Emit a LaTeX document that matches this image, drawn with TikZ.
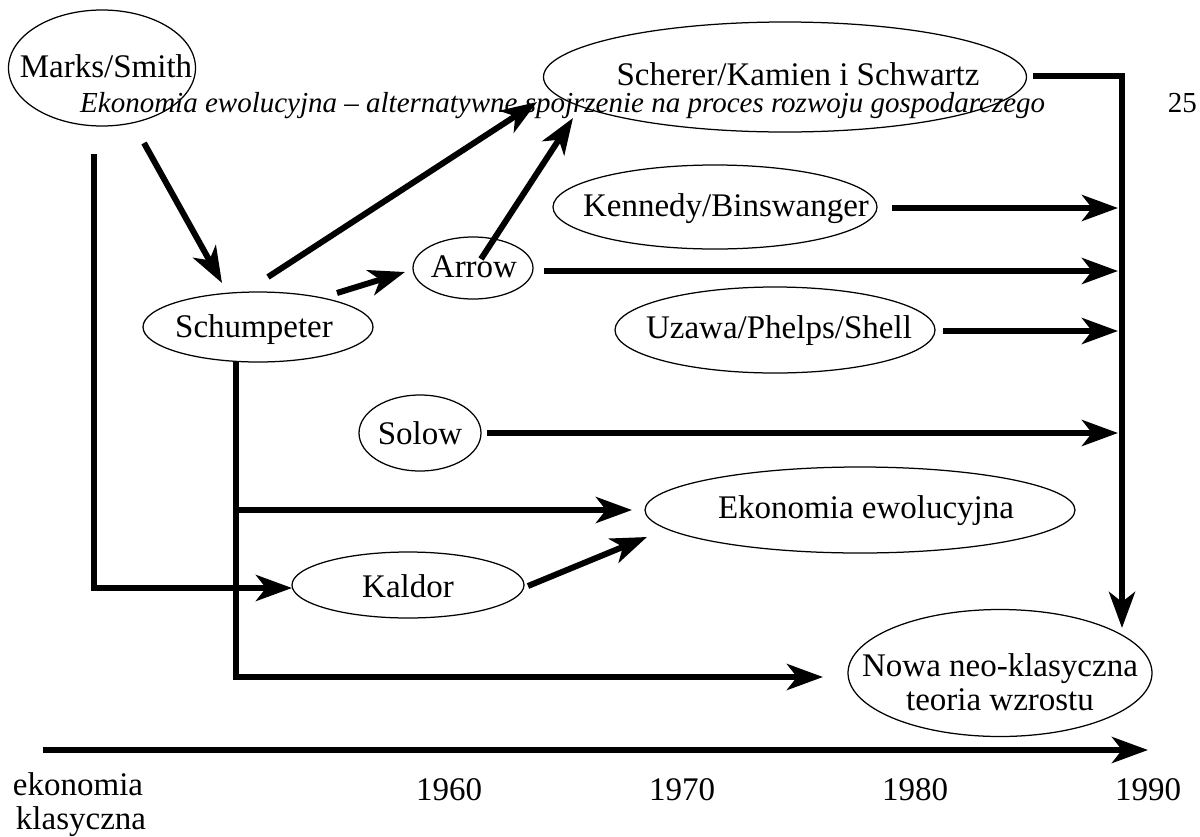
\documentclass[tikz,border=0pt]{standalone}
\usepackage{fontspec}
\setmainfont{Liberation Serif}
\usetikzlibrary{shapes.geometric,arrows.meta}
\begin{document}
\begin{tikzpicture}[x=1pt,y=-1pt,
  ell/.style={draw, ellipse, line width=1.25pt, inner sep=0pt},
  lbl/.style={font=\fontsize{33}{34}\selectfont, inner sep=0pt},
  conn/.style={line width=6pt, -{Stealth[length=36pt,width=26pt,inset=10pt]}},
  wire/.style={line width=6pt}]
\useasboundingbox (0,0) rectangle (1200,836);

% ellipses
\node[ell, minimum width=187pt, minimum height=116pt] (marks) at (102,68) {};
\node[ell, minimum width=483pt, minimum height=110pt] (scherer) at (785,77) {};
\node[ell, minimum width=324pt, minimum height=84pt] (kennedy) at (715,207) {};
\node[ell, minimum width=120pt, minimum height=62pt] (arrow) at (473,268) {};
\node[ell, minimum width=230pt, minimum height=70pt] (schump) at (258,327) {};
\node[ell, minimum width=320pt, minimum height=86pt] (uzawa) at (775,330) {};
\node[ell, minimum width=122pt, minimum height=76pt] (solow) at (420,433) {};
\node[ell, minimum width=430pt, minimum height=86pt] (ekon) at (860,510) {};
\node[ell, minimum width=232pt, minimum height=66pt] (kaldor) at (408,585) {};
\node[ell, minimum width=304pt, minimum height=127pt] (nowa) at (1000,673) {};

% labels
\node[lbl] (marksT) at (106,66) {Marks/Smith};
\node[lbl] (schererT) at (798,74) {Scherer/Kamien i Schwartz};
\node[lbl] (kennedyT) at (726,209) {Kennedy/Binswanger};
\node[lbl] (arrowT) at (474,267) {Arrow};
\node[lbl] (schumpT) at (254,330) {Schumpeter};
\node[lbl] (uzawaT) at (779,331) {Uzawa/Phelps/Shell};
\node[lbl] (solowT) at (420,433) {Solow};
\node[lbl] (ekonT) at (866,511) {Ekonomia ewolucyjna};
\node[lbl] (kaldorT) at (408,586) {Kaldor};
\node[lbl, align=center] (nowaT) at (1000,682) {Nowa neo-klasyczna\\teoria wzrostu};

% header
\node[anchor=base west, inner sep=0pt, font=\fontsize{29}{30}\selectfont\itshape] (header) at (80,112)
  {Ekonomia ewolucyjna -- alternatywne spojrzenie na proces rozwoju gospodarczego};
\node[anchor=base east, inner sep=0pt, font=\fontsize{29}{30}\selectfont] (page) at (1197,112) {25};

% connector end points
\coordinate (mA) at (144,143);
\coordinate (sIn) at (222,283);
\coordinate (sA) at (268,277);
\coordinate (schIn1) at (537,102);
\coordinate (sB) at (337,293);
\coordinate (arIn) at (405,272);
\coordinate (arA) at (481,259);
\coordinate (schIn2) at (573,118);
\coordinate (schOut) at (1033,76);
\coordinate (cornerR) at (1122,76);
\coordinate (nowaIn) at (1122,628);
\coordinate (kOut) at (892,208);
\coordinate (kIn) at (1118,208);
\coordinate (arOut) at (544,271);
\coordinate (arEnd) at (1118,271);
\coordinate (uOut) at (943,331);
\coordinate (uIn) at (1118,331);
\coordinate (soOut) at (487,433);
\coordinate (soIn) at (1118,433);
\coordinate (sV) at (236,362);
\coordinate (sBr) at (236,510);
\coordinate (ekIn) at (632,510);
\coordinate (sCorner) at (236,677);
\coordinate (nowaIn2) at (823,677);
\coordinate (mV) at (94,154);
\coordinate (mCorner) at (94,588);
\coordinate (kaIn) at (292,588);
\coordinate (kaOut) at (528,586);
\coordinate (ekIn2) at (647,537);
\coordinate (tStart) at (43,750);
\coordinate (tEnd) at (1148,750);

% connectors
\draw[conn] (mA) -- (sIn);
\draw[conn] (sA) -- (schIn1);
\draw[conn] (sB) -- (arIn);
\draw[conn] (arA) -- (schIn2);
\draw[conn] (schOut) -- (cornerR) -- (nowaIn);
\draw[conn] (kOut) -- (kIn);
\draw[conn] (arOut) -- (arEnd);
\draw[conn] (uOut) -- (uIn);
\draw[conn] (soOut) -- (soIn);
\draw[conn] (sV) -- (sCorner) -- (nowaIn2);
\draw[conn] (sBr) -- (ekIn);
\draw[conn] (mV) -- (mCorner) -- (kaIn);
\draw[conn] (kaOut) -- (ekIn2);
\draw[conn] (tStart) -- (tEnd);

% timeline labels
\node[lbl, align=center] (klas) at (78,805) {ekonomia\\\hspace*{6pt}klasyczna};
\node[lbl] (y1960) at (449,790) {1960};
\node[lbl] (y1970) at (682,790) {1970};
\node[lbl] (y1980) at (915,790) {1980};
\node[lbl] (y1990) at (1148,790) {1990};
\end{tikzpicture}
\end{document}
